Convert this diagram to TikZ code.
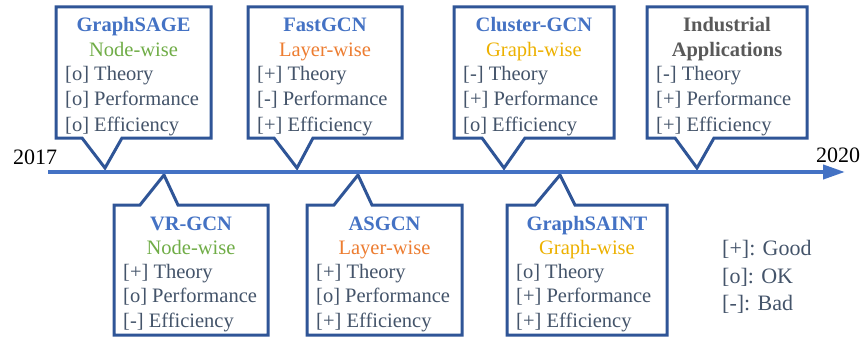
\documentclass[tikz,border=0pt]{standalone}
\usepackage{fontspec}
\setmainfont{Liberation Serif}
\usetikzlibrary{arrows.meta}
\definecolor{titleblue}{HTML}{4472C4}
\definecolor{nodegreen}{HTML}{70AD47}
\definecolor{layerorange}{HTML}{ED7D31}
\definecolor{graphgold}{HTML}{EDB100}
\definecolor{textgray}{HTML}{44546A}
\definecolor{boxblue}{HTML}{2F5597}
\definecolor{indgray}{HTML}{595959}
\definecolor{lineblue}{HTML}{4472C4}
\newcommand{\topcall}[5]{\draw[callout] (#1,7) -- (#2,7) -- (#2,138) -- (#4,138) -- (#5,168) -- (#3,138) -- (#1,138) -- cycle;}
\newcommand{\botcall}[5]{\draw[callout] (#1,335) -- (#2,335) -- (#2,205) -- (#4,205) -- (#5,175) -- (#3,205) -- (#1,205) -- cycle;}
\begin{document}
\begin{tikzpicture}[x=1pt,y=-1pt,
  callout/.style={draw=boxblue, line width=3pt, fill=white, line join=miter},
  timeline/.style={draw=lineblue, line width=4pt, -{Triangle[length=22pt,width=14pt]}},
  ttl/.style={font=\fontsize{20.5}{25}\selectfont\bfseries, text=titleblue, inner sep=0, anchor=base},
  kind/.style={font=\fontsize{20.5}{25}\selectfont, inner sep=0, anchor=base},
  item/.style={font=\fontsize{20.5}{25}\selectfont, text=textgray, inner sep=0, anchor=base west},
  year/.style={font=\fontsize{22}{26}\selectfont, text=black, inner sep=0},
  legend/.style={font=\fontsize{22}{27}\selectfont, text=textgray, inner sep=0, anchor=base west}]
\useasboundingbox (0,0) rectangle (862,337);
% callouts
\topcall{56}{211}{82}{122}{105}
\topcall{248}{402}{274}{313}{297}
\topcall{454}{614}{482}{525}{504}
\topcall{647}{807}{675}{714}{697}
\botcall{114}{268}{140}{178}{164}
\botcall{307}{462}{334}{372}{358}
\botcall{507}{667}{535}{575}{560}
% timeline
\coordinate (start) at (48,172);
\coordinate (finish) at (845,172);
\draw[timeline] (start) -- (finish);
\node[year] (y2017) at (35,157) {2017};
\node[year] (y2020) at (838,155) {2020};
% GraphSAGE
\node[ttl] (sage) at (133.5,32) {GraphSAGE};
\node[kind, text=nodegreen] (sagek) at (133.5,57) {Node-wise};
\node[item] (sage1) at (65,81) {[o] Theory};
\node[item] (sage2) at (65,106) {[o] Performance};
\node[item] (sage3) at (65,131) {[o] Efficiency};
% FastGCN
\node[ttl] (fast) at (325,32) {FastGCN};
\node[kind, text=layerorange] (fastk) at (325,57) {Layer-wise};
\node[item] (fast1) at (257,81) {[+] Theory};
\node[item] (fast2) at (257,106) {[-] Performance};
\node[item] (fast3) at (257,131) {[+] Efficiency};
% Cluster-GCN
\node[ttl] (clus) at (534,32) {Cluster-GCN};
\node[kind, text=graphgold] (clusk) at (534,57) {Graph-wise};
\node[item] (clus1) at (463,81) {[-] Theory};
\node[item] (clus2) at (463,106) {[+] Performance};
\node[item] (clus3) at (463,131) {[o] Efficiency};
% Industrial
\node[ttl, text=indgray] (ind) at (727,32) {Industrial};
\node[ttl, text=indgray] (indk) at (727,57) {Applications};
\node[item] (ind1) at (656,81) {[-] Theory};
\node[item] (ind2) at (656,106) {[+] Performance};
\node[item] (ind3) at (656,131) {[+] Efficiency};
% VR-GCN
\node[ttl] (vr) at (191,230) {VR-GCN};
\node[kind, text=nodegreen] (vrk) at (191,254) {Node-wise};
\node[item] (vr1) at (123,278) {[+] Theory};
\node[item] (vr2) at (123,302) {[o] Performance};
\node[item] (vr3) at (123,327) {[-] Efficiency};
% ASGCN
\node[ttl] (as) at (384.5,230) {ASGCN};
\node[kind, text=layerorange] (ask) at (384.5,254) {Layer-wise};
\node[item] (as1) at (316,278) {[+] Theory};
\node[item] (as2) at (316,302) {[o] Performance};
\node[item] (as3) at (316,327) {[+] Efficiency};
% GraphSAINT
\node[ttl] (saint) at (587,230) {GraphSAINT};
\node[kind, text=graphgold] (saintk) at (587,254) {Graph-wise};
\node[item] (saint1) at (516,278) {[o] Theory};
\node[item] (saint2) at (516,302) {[+] Performance};
\node[item] (saint3) at (516,327) {[+] Efficiency};
% legend
\node[legend] (lg1) at (722,255.6) {[+]: Good};
\node[legend] (lg2) at (722,283.6) {[o]: OK};
\node[legend] (lg3) at (722,310.6) {[-]: Bad};
\end{tikzpicture}
\end{document}
